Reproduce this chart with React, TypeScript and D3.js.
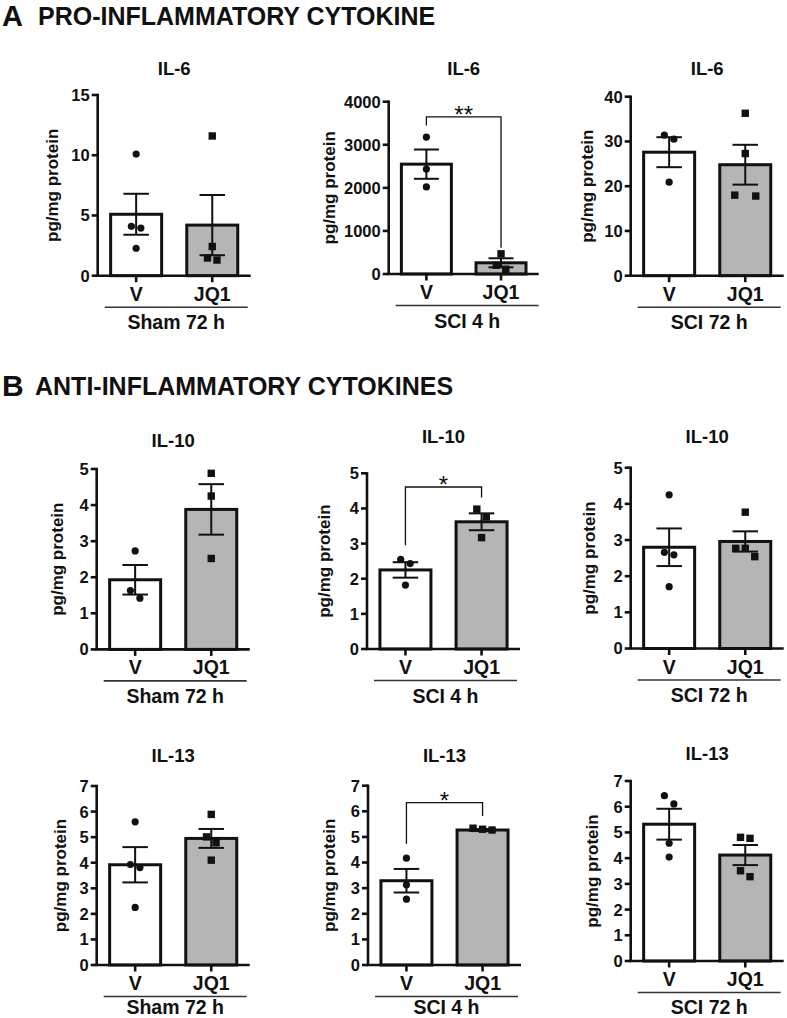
import React from 'react';
import * as d3 from 'd3';

// ---------- data ----------
const categories = ['V', 'JQ1'];
const panelTitles = ['IL-6', 'IL-6', 'IL-6', 'IL-10', 'IL-10', 'IL-10', 'IL-13', 'IL-13', 'IL-13'];
const groupLabels = ['Sham 72 h', 'SCI 4 h', 'SCI 72 h', 'Sham 72 h', 'SCI 4 h', 'SCI 72 h', 'Sham 72 h', 'SCI 4 h', 'SCI 72 h'];
const yMax = [15, 4000, 40, 5, 5, 5, 7, 7, 7];
const yStep = [5, 1000, 10, 1, 1, 1, 1, 1, 1];
const yLabel = 'pg/mg protein';

const meanV = [5.1, 2550, 27.6, 1.93, 2.25, 2.8, 3.92, 3.29, 5.32];
const semV = [1.7, 340, 3.35, 0.41, 0.22, 0.52, 0.69, 0.46, 0.6];
const meanJQ1 = [4.2, 260, 24.8, 3.88, 3.62, 2.96, 4.95, 5.27, 4.12];
const semJQ1 = [2.5, 105, 4.45, 0.7, 0.24, 0.28, 0.37, 0.04, 0.39];

const pointsV = [
  [10.1, 4.1, 3.95, 2.28],
  [3178, 2436, 2021],
  [31.4, 30.5, 20.9],
  [2.73, 1.42, 1.63],
  [2.55, 2.43, 1.82],
  [4.25, 2.66, 2.59, 1.71],
  [5.6, 3.93, 3.81, 2.25],
  [4.17, 3.13, 2.57],
  [6.11, 6.43, 4.58, 4.04],
];
const pointsJQ1 = [
  [11.6, 2.42, 1.3, 1.47],
  [468, 203, 110],
  [36.3, 27.3, 17.8, 18.0],
  [4.88, 4.25, 2.52],
  [3.98, 3.76, 3.17],
  [3.77, 2.77, 2.77, 2.54],
  [5.89, 5.01, 4.78, 4.1],
  [5.34, 5.27, 5.3],
  [4.81, 4.77, 3.51, 3.28],
];

// significance brackets (data units): panel index, bar level, left end, right end, label
const brackets = [
  { panel: 1, level: 3650, left: 3450, right: 610, label: '**' },
  { panel: 4, level: 4.61, left: 2.95, right: 4.31, label: '*' },
  { panel: 7, level: 6.34, left: 4.73, right: 5.82, label: '*' },
];

const sectionHeaders = [
  { letter: 'A', text: 'PRO-INFLAMMATORY CYTOKINE' },
  { letter: 'B', text: 'ANTI-INFLAMMATORY CYTOKINES' },
];

// ---------- layout ----------
const layout = [
  { axisX: 97.7, top: 95, zero: 275.7, w: 153, ylDx: -46, titleY: 74.6 },
  { axisX: 388.7, top: 101.7, zero: 274, w: 150, ylDx: -60, titleY: 74.6 },
  { axisX: 630.7, top: 96.7, zero: 275.7, w: 153, ylDx: -43.4, titleY: 74.6 },
  { axisX: 96.7, top: 469, zero: 649.4, w: 153, ylDx: -40, titleY: 446.5 },
  { axisX: 367, top: 473.3, zero: 649, w: 153, ylDx: -43.3, titleY: 443.3 },
  { axisX: 630.7, top: 467.7, zero: 648.5, w: 153, ylDx: -41.7, titleY: 443.3 },
  { axisX: 96.7, top: 786, zero: 965, w: 153, ylDx: -36.7, titleY: 761.6 },
  { axisX: 368, top: 785.7, zero: 965, w: 153, ylDx: -39.3, titleY: 761.6 },
  { axisX: 630.7, top: 781, zero: 961, w: 153, ylDx: -38.4, titleY: 759.6 },
];
const headerLayout = [
  { y: 26, letterSize: 29, textX: 38 },
  { y: 396, letterSize: 30, textX: 35 },
];
const PAGE_H = 1018;

const FONT = '"Liberation Sans", Arial, Helvetica, sans-serif';
const INK = '#111';
const GRAY = '#b5b5b5';

function jitter(vals: number[], yScale: (v: number) => number): number[] {
  const idx = vals.map((v, i) => ({ v, i, py: yScale(v) })).sort((a, b) => a.py - b.py);
  const out = new Array(vals.length).fill(0);
  let cluster = [idx[0]];
  const flush = () => {
    const k = cluster.length;
    const spread = cluster[k - 1].py - cluster[0].py;
    const s = k > 1 && spread < 1 ? 21 : 9.5;
    cluster.forEach((p, j) => (out[p.i] = (j - (k - 1) / 2) * s));
  };
  for (let j = 1; j < idx.length; j++) {
    if (idx[j].py - idx[j - 1].py < 8.5) cluster.push(idx[j]);
    else {
      flush();
      cluster = [idx[j]];
    }
  }
  flush();
  return out;
}

function Panel({ i }: { i: number }) {
  const L = layout[i];
  const y = d3.scaleLinear().domain([0, yMax[i]]).range([L.zero, L.top]);
  const x = d3
    .scaleBand<string>()
    .domain(categories)
    .range([L.axisX, L.axisX + L.w])
    .paddingInner(0.33)
    .paddingOuter(0.17);
  const bw = x.bandwidth();
  const ticks = d3.range(0, yMax[i] + yStep[i] / 2, yStep[i]);
  const means = [meanV[i], meanJQ1[i]];
  const sems = [semV[i], semJQ1[i]];
  const pts = [pointsV[i], pointsJQ1[i]];
  const fills = ['#fff', GRAY];
  const cx = (c: string) => (x(c) as number) + bw / 2;
  const br = brackets.find((b) => b.panel === i);
  const plotMid = (L.top + L.zero) / 2;
  const groupY = Math.min(L.zero + 53.5, PAGE_H - 4);

  return (
    <g>
      <text
        x={L.axisX + L.w / 2}
        y={L.titleY}
        textAnchor="middle"
        fontSize={18.5}
        fontWeight="bold"
        fill={INK}
      >
        {panelTitles[i]}
      </text>
      {/* bars */}
      {categories.map((c, k) => (
        <rect
          key={c}
          x={x(c)}
          y={y(means[k])}
          width={bw}
          height={L.zero - y(means[k])}
          fill={fills[k]}
          stroke={INK}
          strokeWidth={3}
        />
      ))}
      {/* error bars */}
      {categories.map((c, k) => {
        const hi = y(means[k] + sems[k]);
        const lo = y(Math.max(0, means[k] - sems[k]));
        const X = cx(c);
        const cw = bw * 0.25;
        return (
          <g key={c} stroke={INK} strokeWidth={2}>
            <line x1={X} x2={X} y1={hi} y2={lo} />
            <line x1={X - cw} x2={X + cw} y1={hi} y2={hi} />
            <line x1={X - cw} x2={X + cw} y1={lo} y2={lo} />
          </g>
        );
      })}
      {/* points */}
      {categories.map((c, k) => {
        const offs = jitter(pts[k], y);
        return (
          <g key={c} fill={INK}>
            {pts[k].map((v, j) =>
              k === 0 ? (
                <circle key={j} cx={cx(c) + offs[j]} cy={y(v)} r={3.6} />
              ) : (
                <rect key={j} x={cx(c) + offs[j] - 3.7} y={y(v) - 3.7} width={7.4} height={7.4} />
              )
            )}
          </g>
        );
      })}
      {/* y axis */}
      <line x1={L.axisX} x2={L.axisX} y1={L.top - 1.2} y2={L.zero} stroke={INK} strokeWidth={2.6} />
      {ticks.map((t) => (
        <g key={t}>
          <line x1={L.axisX - 6} x2={L.axisX} y1={y(t)} y2={y(t)} stroke={INK} strokeWidth={2.6} />
          <text
            x={L.axisX - 8}
            y={y(t)}
            dy="0.36em"
            textAnchor="end"
            fontSize={16.5}
            fontWeight="bold"
            fill={INK}
          >
            {d3.format('d')(t)}
          </text>
        </g>
      ))}
      <text
        transform={`translate(${L.axisX + L.ylDx},${plotMid}) rotate(-90)`}
        textAnchor="middle"
        dy="0.36em"
        fontSize={17}
        fontWeight="bold"
        fill={INK}
      >
        {yLabel}
      </text>
      {/* x axis */}
      <line x1={L.axisX - 1.3} x2={L.axisX + L.w} y1={L.zero} y2={L.zero} stroke={INK} strokeWidth={2.6} />
      {categories.map((c) => (
        <g key={c}>
          <line x1={cx(c)} x2={cx(c)} y1={L.zero} y2={L.zero + 6.5} stroke={INK} strokeWidth={2.6} />
          <text x={cx(c)} y={L.zero + 25} textAnchor="middle" fontSize={19.5} fontWeight="bold" fill={INK}>
            {c}
          </text>
        </g>
      ))}
      <line
        x1={L.axisX + 7}
        x2={L.axisX + 150}
        y1={L.zero + 31.5}
        y2={L.zero + 31.5}
        stroke="#333"
        strokeWidth={1.6}
      />
      <text
        x={L.axisX + 78.5}
        y={groupY}
        textAnchor="middle"
        fontSize={19.5}
        fontWeight="bold"
        fill={INK}
      >
        {groupLabels[i]}
      </text>
      {br && (
        <g>
          <path
            d={`M${cx('V')},${y(br.left)}V${y(br.level)}H${cx('JQ1')}V${y(br.right)}`}
            fill="none"
            stroke={INK}
            strokeWidth={1.3}
          />
          <text
            x={(cx('V') + cx('JQ1')) / 2}
            y={y(br.level) + 6}
            textAnchor="middle"
            fontSize={24}
            fill={INK}
          >
            {br.label}
          </text>
        </g>
      )}
    </g>
  );
}

export default function App() {
  return (
    <svg
      width={787}
      height={PAGE_H}
      style={{ position: 'absolute', left: 0, top: 0, background: '#fff' }}
      fontFamily={FONT}
    >
      <rect width={787} height={PAGE_H} fill="#fff" />
      {sectionHeaders.map((h, k) => (
        <g key={h.letter}>
          <text x={2} y={headerLayout[k].y} fontSize={headerLayout[k].letterSize} fontWeight="bold" fill={INK}>
            {h.letter}
          </text>
          <text x={headerLayout[k].textX} y={headerLayout[k].y - 1.5} fontSize={25} fontWeight="bold" fill={INK}>
            {h.text}
          </text>
        </g>
      ))}
      {layout.map((_, i) => (
        <Panel key={i} i={i} />
      ))}
    </svg>
  );
}
